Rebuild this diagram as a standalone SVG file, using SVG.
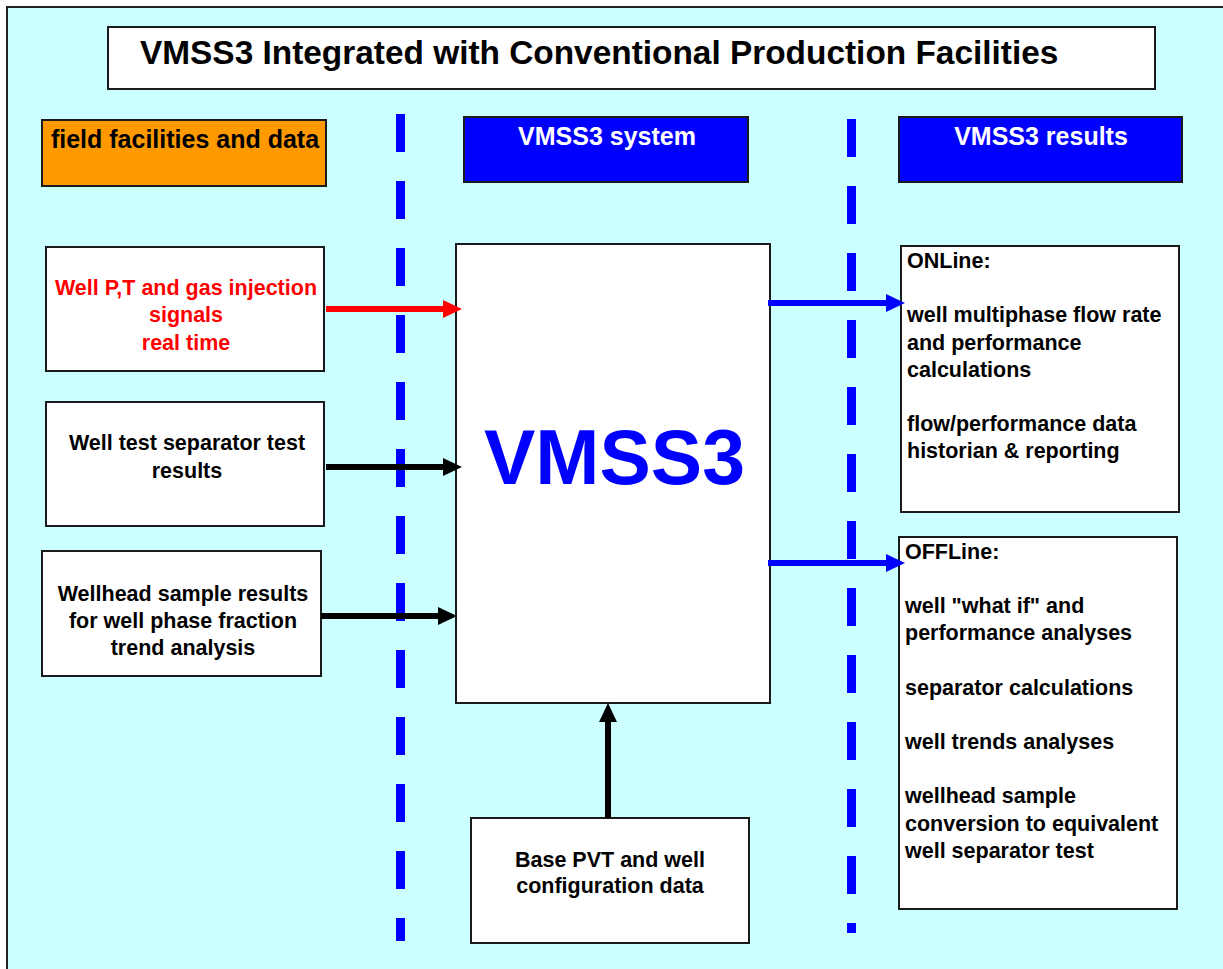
<svg xmlns="http://www.w3.org/2000/svg" width="1223" height="969" viewBox="0 0 1223 969">
<style>
  .box { fill: #FFFFFF; stroke: #1a1a1a; stroke-width: 2; }
  .hdr { fill: #0000FF; stroke: #1a1a1a; stroke-width: 2; }
  .t { font-family: "Liberation Sans", Arial, sans-serif; font-weight: bold; font-size: 21.5px; fill: #000000; }
  .c { text-anchor: middle; }
  .h { font-family: "Liberation Sans", Arial, sans-serif; font-weight: bold; font-size: 25px; }
  .dash { stroke: #0000FF; stroke-width: 9; stroke-dasharray: 38 29; fill: none; }
  .shaft { stroke-width: 6; fill: none; }
</style>
<defs>
  <marker id="ahRed" markerUnits="userSpaceOnUse" markerWidth="19" markerHeight="18" refX="9" refY="9" orient="auto">
    <path d="M0,0 L19,9 L0,18 z" fill="#FF0000"/>
  </marker>
  <marker id="ahBlack" markerUnits="userSpaceOnUse" markerWidth="19" markerHeight="18" refX="9" refY="9" orient="auto">
    <path d="M0,0 L19,9 L0,18 z" fill="#000000"/>
  </marker>
  <marker id="ahBlue" markerUnits="userSpaceOnUse" markerWidth="19" markerHeight="18" refX="9" refY="9" orient="auto">
    <path d="M0,0 L19,9 L0,18 z" fill="#0000FF"/>
  </marker>
</defs>

<rect x="0" y="0" width="1223" height="969" fill="#FFFFFF"/>
<rect x="7" y="7" width="1230" height="975" fill="#CCFFFF" stroke="#222222" stroke-width="2"/>

<g id="dividers">
  <line class="dash" x1="400.5" y1="114" x2="400.5" y2="941"/>
  <line class="dash" x1="851.5" y1="119" x2="851.5" y2="933"/>
</g>

<g id="title">
  <rect class="box" x="108" y="27" width="1047" height="62"/>
  <text x="140" y="64" font-family="Liberation Sans, Arial, sans-serif" font-weight="bold" font-size="33.4" fill="#000000">VMSS3 Integrated with Conventional Production Facilities</text>
</g>

<g id="hdr-field">
  <rect x="42" y="120" width="284" height="66" fill="#FF9900" stroke="#1a1a1a" stroke-width="2"/>
  <text class="h" x="185" y="148" text-anchor="middle" fill="#000000">field facilities and data</text>
</g>

<g id="hdr-system">
  <rect class="hdr" x="464" y="117" width="284" height="65"/>
  <text class="h" x="607" y="145" text-anchor="middle" fill="#FFFFFF">VMSS3 system</text>
</g>

<g id="hdr-results">
  <rect class="hdr" x="899" y="117" width="283" height="65"/>
  <text class="h" x="1041" y="145" text-anchor="middle" fill="#FFFFFF">VMSS3 results</text>
</g>

<g id="in-signals">
  <rect class="box" x="46" y="247" width="278" height="124"/>
  <text class="t c" x="186" y="295" style="fill:#FF0000">Well P,T and gas injection</text>
  <text class="t c" x="186" y="322" style="fill:#FF0000">signals</text>
  <text class="t c" x="186" y="350" style="fill:#FF0000">real time</text>
</g>

<g id="in-welltest">
  <rect class="box" x="46" y="402" width="278" height="124"/>
  <text class="t c" x="187" y="450">Well test separator test</text>
  <text class="t c" x="187" y="478">results</text>
</g>

<g id="in-wellhead">
  <rect class="box" x="42" y="551" width="279" height="125"/>
  <text class="t c" x="183" y="601">Wellhead sample results</text>
  <text class="t c" x="183" y="628">for well phase fraction</text>
  <text class="t c" x="183" y="655">trend analysis</text>
</g>

<g id="vmss3">
  <rect class="box" x="456" y="244" width="314" height="459"/>
  <text x="614.5" y="484" text-anchor="middle" font-family="Liberation Sans, Arial, sans-serif" font-weight="bold" font-size="77" fill="#0000FF">VMSS3</text>
</g>

<g id="base-pvt">
  <rect class="box" x="471" y="818" width="278" height="125"/>
  <text class="t c" x="610" y="867">Base PVT and well</text>
  <text class="t c" x="610" y="893">configuration data</text>
</g>

<g id="online">
  <rect class="box" x="901" y="246" width="278" height="266"/>
  <text class="t" x="907" y="268">ONLine:</text>
  <text class="t" x="907" y="322">well multiphase flow rate</text>
  <text class="t" x="907" y="350">and performance</text>
  <text class="t" x="907" y="377">calculations</text>
  <text class="t" x="907" y="431">flow/performance data</text>
  <text class="t" x="907" y="458">historian &amp; reporting</text>
</g>

<g id="offline">
  <rect class="box" x="899" y="537" width="278" height="372"/>
  <text class="t" x="905" y="559">OFFLine:</text>
  <text class="t" x="905" y="613">well "what if" and</text>
  <text class="t" x="905" y="640">performance analyses</text>
  <text class="t" x="905" y="695">separator calculations</text>
  <text class="t" x="905" y="749">well trends analyses</text>
  <text class="t" x="905" y="803">wellhead sample</text>
  <text class="t" x="905" y="831">conversion to equivalent</text>
  <text class="t" x="905" y="858">well separator test</text>
</g>

<g id="connectors">
  <line class="shaft" x1="326" y1="309" x2="452" y2="309" stroke="#FF0000" marker-end="url(#ahRed)"/>
  <line class="shaft" x1="326" y1="467" x2="452" y2="467" stroke="#000000" marker-end="url(#ahBlack)"/>
  <line class="shaft" x1="321" y1="616" x2="447" y2="616" stroke="#000000" marker-end="url(#ahBlack)"/>
  <line class="shaft" x1="768" y1="303" x2="895" y2="303" stroke="#0000FF" marker-end="url(#ahBlue)"/>
  <line class="shaft" x1="768" y1="563" x2="895" y2="563" stroke="#0000FF" marker-end="url(#ahBlue)"/>
  <line class="shaft" x1="608" y1="818" x2="608" y2="713" stroke="#000000" marker-end="url(#ahBlack)"/>
</g>
</svg>
